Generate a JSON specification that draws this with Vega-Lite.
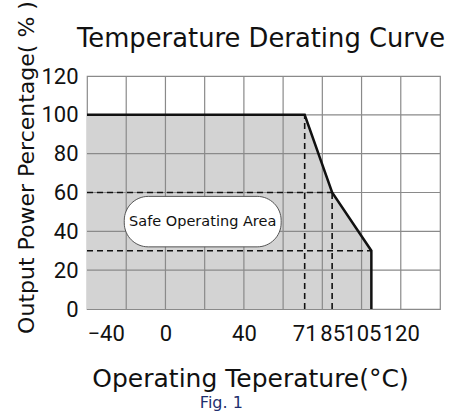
{
  "$schema": "https://vega.github.io/schema/vega-lite/v6.json",
  "autosize": "none",
  "width": 353,
  "height": 233,
  "padding": {"left": 87, "top": 76, "right": 13, "bottom": 107},
  "background": "white",
  "config": {"view": {"stroke": "#8a8a8a", "strokeWidth": 1.2}},
  "title": {
    "text": "Temperature Derating Curve",
    "anchor": "start",
    "frame": "group",
    "dx": -10,
    "offset": 0,
    "dy": 72,
    "baseline": "alphabetic",
    "font": "DejaVu Sans",
    "fontSize": 25.8,
    "fontWeight": "normal",
    "color": "#111"
  },
  "datasets": {
    "curve": [
      {"t": -40, "p": 100},
      {"t": 71, "p": 100},
      {"t": 85, "p": 60},
      {"t": 105, "p": 30},
      {"t": 105, "p": 0}
    ],
    "area": [
      {"t": -40, "p": 100},
      {"t": 71, "p": 100},
      {"t": 85, "p": 60},
      {"t": 105, "p": 30}
    ],
    "grid": [
      {"t": -20, "t2": -20, "p": 0, "p2": 120},
      {"t": 0, "t2": 0, "p": 0, "p2": 120},
      {"t": 20, "t2": 20, "p": 0, "p2": 120},
      {"t": 40, "t2": 40, "p": 0, "p2": 120},
      {"t": 60, "t2": 60, "p": 0, "p2": 120},
      {"t": 80, "t2": 80, "p": 0, "p2": 120},
      {"t": 100, "t2": 100, "p": 0, "p2": 120},
      {"t": 120, "t2": 120, "p": 0, "p2": 120},
      {"t": -40, "t2": 140, "p": 20, "p2": 20},
      {"t": -40, "t2": 140, "p": 40, "p2": 40},
      {"t": -40, "t2": 140, "p": 60, "p2": 60},
      {"t": -40, "t2": 140, "p": 80, "p2": 80},
      {"t": -40, "t2": 140, "p": 100, "p2": 100}
    ],
    "dashes": [
      {"t": -40, "t2": 85, "p": 60, "p2": 60},
      {"t": -40, "t2": 105, "p": 30, "p2": 30},
      {"t": 71, "t2": 71, "p": 0, "p2": 100},
      {"t": 85, "t2": 85, "p": 0, "p2": 60}
    ],
    "box": [
      {"t": -21, "t2": 59, "p": 32, "p2": 58, "tc": 19, "pc": 45, "label": "Safe Operating Area"}
    ],
    "fig": [
      {"t": 28.5, "p": -48.5, "label": "Fig. 1"}
    ]
  },
  "encoding": {
    "x": {
      "field": "t",
      "type": "quantitative",
      "scale": {"domain": [-40, 140], "nice": false, "zero": false},
      "axis": {
        "values": [-40, 0, 40, 71, 85, 105, 120],
        "grid": false,
        "ticks": false,
        "domain": false,
        "labelOverlap": false,
        "labelFont": "Roboto",
        "labelFontSize": 22,
        "labelColor": "#111",
        "labelPadding": 14,
        "labelOffset": {"condition": {"test": "datum.value == 105", "value": -9}, "value": 0},
        "title": "Operating Teperature(°C)",
        "titleFont": "DejaVu Sans",
        "titleFontSize": 25,
        "titleFontWeight": "normal",
        "titleColor": "#111",
        "titleX": 163,
        "titleY": 77,
        "titleBaseline": "alphabetic",
        "titleAlign": "center"
      }
    },
    "y": {
      "field": "p",
      "type": "quantitative",
      "scale": {"domain": [0, 120], "nice": false},
      "axis": {
        "values": [0, 20, 40, 60, 80, 100, 120],
        "grid": false,
        "ticks": false,
        "domain": false,
        "labelFont": "Roboto",
        "labelFontSize": 22,
        "labelColor": "#111",
        "labelPadding": 9,
        "title": "Output Power Percentage( % )",
        "titleFont": "DejaVu Sans",
        "titleFontSize": 22,
        "titleFontWeight": "normal",
        "titleColor": "#111",
        "titleX": -54,
        "titleY": 91,
        "titleBaseline": "alphabetic",
        "titleAlign": "center"
      }
    }
  },
  "layer": [
    {
      "data": {"name": "area"},
      "mark": {"type": "area", "color": "#d3d3d3", "opacity": 1}
    },
    {
      "data": {"name": "grid"},
      "mark": {"type": "rule", "color": "#8a8a8a", "strokeWidth": 1.2},
      "encoding": {"x2": {"field": "t2"}, "y2": {"field": "p2"}}
    },
    {
      "data": {"name": "dashes"},
      "mark": {"type": "rule", "color": "#111", "strokeWidth": 1.6, "strokeDash": [6, 4]},
      "encoding": {"x2": {"field": "t2"}, "y2": {"field": "p2"}}
    },
    {
      "data": {"name": "box"},
      "mark": {"type": "rect", "fill": "white", "stroke": "#555", "strokeWidth": 1, "cornerRadius": 24},
      "encoding": {"x2": {"field": "t2"}, "y2": {"field": "p2"}}
    },
    {
      "data": {"name": "box"},
      "mark": {"type": "text", "font": "DejaVu Sans", "fontSize": 14.5, "color": "#111", "align": "center", "baseline": "middle"},
      "encoding": {
        "x": {"field": "tc", "type": "quantitative"},
        "y": {"field": "pc", "type": "quantitative"},
        "text": {"field": "label"}
      }
    },
    {
      "data": {"name": "curve"},
      "mark": {"type": "line", "color": "#111", "strokeWidth": 2.5, "strokeJoin": "miter"},
      "encoding": {"order": {"value": 0}}
    },
    {
      "data": {"name": "fig"},
      "mark": {"type": "text", "font": "DejaVu Sans", "fontSize": 16, "color": "#1f2f6e", "align": "center", "baseline": "middle", "clip": false},
      "encoding": {"text": {"field": "label"}}
    }
  ]
}
